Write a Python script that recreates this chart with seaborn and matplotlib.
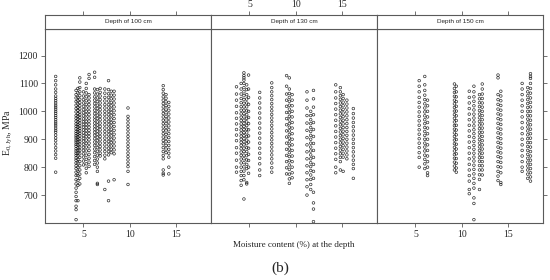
import pandas as pd
import matplotlib.pyplot as plt
import seaborn as sns

# ---------------------------------------------------------------------
# Data: moisture content columns and E values
# ---------------------------------------------------------------------
depths = ["Depth of 100 cm", "Depth of 130 cm", "Depth of 150 cm"]

x_100 = [2.0, 4.2, 4.4, 4.6, 5.0, 5.3, 5.6, 6.2, 6.5, 6.8, 7.3, 7.7, 8.0, 8.3, 9.8, 13.6, 13.9, 14.2]
e_100 = [
    [1125, 1110, 1095, 1080, 1068, 1055, 1046, 1038, 1030, 1022, 1015, 1008, 1000, 993, 985, 978,
     970, 962, 955, 948, 940, 932, 925, 915, 905, 895, 883, 870, 858, 845, 832, 782],
    [1075, 1060, 1048, 1035, 1022, 1010, 998, 985, 975, 965, 955, 946, 937, 928, 920, 912, 905, 897,
     890, 882, 875, 866, 858, 850, 842, 833, 825, 815, 805, 795, 782, 770, 755, 740, 725, 710, 695,
     680, 660, 648, 612],
    [1082, 1066, 1050, 1038, 1026, 1014, 1003, 992, 982, 972, 962, 953, 944, 935, 926, 917, 908, 899,
     890, 880, 870, 860, 850, 840, 828, 815, 800, 785, 770, 752, 735, 680],
    [1120, 1105, 1085, 1070, 1056, 1043, 1031, 1020, 1009, 998, 988, 978, 968, 958, 948, 939, 930,
     921, 912, 902, 892, 882, 871, 860, 848, 835, 820, 805, 790, 775, 760, 740],
    [1070, 1055, 1042, 1030, 1018, 1006, 995, 984, 973, 963, 953, 943, 933, 923, 913, 903, 893, 882,
     871, 860, 848, 836, 822, 808],
    [1100, 1082, 1066, 1052, 1038, 1025, 1012, 1000, 988, 976, 964, 953, 942, 931, 920, 909, 897,
     885, 872, 858, 843, 828, 812, 796, 780],
    [1132, 1118, 1060, 1048, 1036, 1024, 1012, 1000, 988, 976, 965, 954, 943, 932, 921, 910, 898,
     886, 873, 860, 846, 832, 818, 803],
    [1140, 1122, 1080, 1066, 1052, 1040, 1028, 1016, 1004, 992, 980, 969, 958, 947, 936, 925, 914,
     902, 890, 878, 865, 852, 838, 824, 810],
    [1078, 1062, 1048, 1035, 1022, 1010, 998, 986, 974, 962, 951, 940, 929, 918, 907, 895, 883, 870,
     857, 843, 829, 815, 800, 785, 742, 738],
    [1082, 1068, 1055, 1042, 1030, 1018, 1006, 994, 982, 970, 958, 946, 934, 922, 910, 898, 886, 874,
     862, 850, 840],
    [1080, 1065, 1050, 1037, 1024, 1012, 1000, 988, 976, 964, 952, 940, 928, 916, 904, 892, 880, 868,
     856, 843, 830, 720],
    [1110, 1078, 1063, 1050, 1037, 1024, 1012, 1000, 988, 976, 964, 952, 940, 928, 916, 904, 892,
     880, 868, 856, 844, 750, 680],
    [1072, 1058, 1045, 1032, 1020, 1008, 996, 984, 972, 960, 948, 936, 924, 912, 900, 888, 876, 864, 852],
    [1072, 1058, 1044, 1030, 1016, 1002, 988, 974, 960, 946, 932, 918, 904, 890, 876, 862, 848, 755],
    [1012, 982, 970, 958, 946, 934, 922, 910, 898, 886, 874, 862, 850, 838, 826, 814, 802, 785, 738],
    [1092, 1078, 1065, 1052, 1040, 1028, 1016, 1004, 992, 980, 968, 956, 944, 932, 920, 908, 896,
     884, 870, 856, 842, 830, 790, 778, 772],
    [1060, 1047, 1034, 1021, 1008, 995, 982, 969, 956, 943, 930, 917, 904, 891, 878, 865, 852],
    [1032, 1018, 1004, 990, 976, 962, 948, 934, 920, 906, 892, 878, 864, 850, 836, 800, 776],
]

x_130 = [3.6, 4.1, 4.4, 4.7, 4.9, 6.1, 7.4, 9.0, 9.3, 9.6, 11.2, 11.6, 11.9, 14.3, 14.8, 15.1, 15.5, 16.2]
e_130 = [
    [1088, 1062, 1040, 1018, 995, 975, 955, 935, 915, 895, 870, 850, 825, 800, 782],
    [1100, 1080, 1062, 1046, 1031, 1017, 1004, 991, 979, 967, 955, 944, 933, 922, 911, 900, 889,
     878, 866, 854, 842, 829, 815, 800, 785, 770, 752, 735],
    [1138, 1128, 1120, 1112, 1100, 1085, 1070, 1056, 1042, 1029, 1016, 1004, 992, 980, 968, 957,
     946, 935, 924, 913, 902, 891, 880, 868, 856, 843, 830, 816, 801, 786, 770, 755, 686],
    [1095, 1078, 1060, 1044, 1030, 1016, 1002, 988, 975, 962, 949, 936, 923, 910, 897, 884, 870,
     856, 841, 826, 810, 795, 745, 740],
    [1130, 1080, 1050, 1025, 1000, 978, 956, 934, 912, 890, 868, 846, 824, 800, 778],
    [1068, 1048, 1030, 1012, 994, 976, 958, 940, 922, 904, 886, 868, 850, 832, 812, 790, 770],
    [1102, 1085, 1070, 1056, 1042, 1028, 1015, 1002, 989, 976, 963, 950, 937, 924, 911, 898, 885,
     872, 858, 844, 830, 815, 798, 782],
    [1128, 1090, 1062, 1040, 1018, 996, 974, 952, 930, 908, 886, 864, 842, 820, 798, 776],
    [1120, 1080, 1064, 1050, 1036, 1022, 1008, 995, 982, 969, 956, 943, 930, 917, 904, 891, 878,
     865, 852, 838, 823, 808, 792, 775, 758, 742],
    [1060, 1040, 1020, 1000, 980, 960, 940, 920, 900, 880, 860, 840, 820, 800, 780, 762],
    [1070, 1040, 1012, 985, 958, 932, 906, 880, 855, 830, 805, 780, 755, 730, 700],
    [1000, 985, 970, 956, 942, 928, 914, 900, 886, 872, 858, 844, 830, 816, 802, 788, 772, 756, 738, 720],
    [1075, 1045, 1015, 988, 960, 935, 910, 885, 860, 835, 810, 785, 760, 710, 672, 650, 605],
    [1095, 1070, 1048, 1028, 1008, 988, 968, 948, 928, 908, 888, 868, 848, 828, 800, 780],
    [1085, 1070, 1056, 1043, 1030, 1017, 1004, 991, 978, 965, 952, 939, 926, 913, 900, 887, 874,
     861, 848, 835, 820, 790],
    [1060, 1046, 1033, 1020, 1007, 994, 981, 968, 955, 942, 929, 916, 903, 890, 877, 864, 850, 836, 785],
    [1040, 1026, 1012, 998, 984, 970, 956, 942, 928, 914, 900, 886, 872, 858, 844, 830],
    [1010, 992, 976, 960, 945, 930, 915, 900, 885, 870, 855, 840, 825, 810, 795, 760],
]

x_150 = [5.4, 6.0, 6.3, 9.2, 9.4, 10.8, 11.3, 11.9, 12.2, 13.9, 14.2, 16.5, 17.1, 17.4]
e_150 = [
    [1110, 1090, 1070, 1050, 1032, 1015, 998, 982, 966, 950, 934, 918, 902, 886, 870, 852, 835, 800],
    [1125, 1095, 1075, 1058, 1042, 1027, 1012, 998, 984, 970, 956, 942, 928, 914, 900, 886, 872,
     858, 843, 828, 812, 795],
    [1040, 1020, 1000, 980, 960, 940, 920, 900, 880, 860, 840, 820, 800, 780, 770],
    [1098, 1082, 1068, 1054, 1040, 1027, 1014, 1001, 988, 975, 962, 949, 936, 923, 910, 897, 884,
     871, 858, 845, 832, 818, 804, 790],
    [1090, 1070, 1052, 1035, 1018, 1001, 984, 967, 950, 933, 916, 899, 882, 865, 848, 831, 814, 797, 782],
    [1072, 1050, 1030, 1010, 990, 970, 950, 930, 910, 890, 870, 850, 830, 810, 790, 770, 750, 720, 705],
    [1090, 1070, 1052, 1036, 1020, 1005, 990, 976, 962, 948, 934, 920, 906, 892, 878, 864, 850, 836,
     822, 807, 792, 776, 760, 742, 725, 690, 670, 612],
    [1060, 1045, 1031, 1017, 1003, 990, 977, 964, 951, 938, 925, 912, 899, 886, 873, 860, 847, 834,
     821, 806, 790, 773, 756, 720],
    [1098, 1080, 1062, 1046, 1030, 1015, 1000, 985, 970, 955, 940, 925, 910, 895, 880, 865, 850,
     835, 820, 805, 790, 772],
    [1130, 1120, 1060, 1042, 1025, 1008, 991, 974, 957, 940, 923, 906, 889, 872, 855, 838, 820, 802,
     785, 768, 752],
    [1072, 1055, 1038, 1021, 1004, 987, 970, 953, 936, 919, 902, 885, 868, 851, 834, 817, 800, 780, 745, 738],
    [1100, 1080, 1060, 1040, 1020, 1000, 980, 960, 940, 920, 900, 880, 860, 840, 820, 800, 785],
    [1085, 1070, 1056, 1042, 1028, 1014, 1000, 986, 972, 958, 944, 930, 916, 902, 888, 874, 860,
     846, 832, 818, 804, 790, 775, 760],
    [1135, 1125, 1118, 1100, 1082, 1065, 1048, 1032, 1016, 1000, 984, 968, 952, 936, 920, 904, 888,
     872, 856, 840, 825, 810, 795, 780, 765, 750],
]

# ---------------------------------------------------------------------
# Long-form table
# ---------------------------------------------------------------------
rows = []
for depth, xs, es in zip(depths, [x_100, x_130, x_150], [e_100, e_130, e_150]):
    for xv, col in zip(xs, es):
        for ev in col:
            rows.append((depth, xv, ev))
df = pd.DataFrame(rows, columns=["depth", "moisture", "E"])

# ---------------------------------------------------------------------
# Lattice-style figure
# ---------------------------------------------------------------------
sns.set_style("white")
plt.rcParams["font.family"] = ["Liberation Serif", "DejaVu Serif"]
plt.rcParams["mathtext.fontset"] = "custom"
plt.rcParams["mathtext.rm"] = "Liberation Serif"
plt.rcParams["mathtext.it"] = "Liberation Serif:italic"

FRAME = "#5a5a5a"
W, H = 550, 280
fig = plt.figure(figsize=(5.5, 2.8), dpi=100)

panel_left, panel_w = 45, 166
plot_top, plot_bot = 29, 223
strip_top = 14.5

for i, depth in enumerate(depths):
    left = (panel_left + i * panel_w) / W
    ax = fig.add_axes([left, (H - plot_bot) / H, panel_w / W, (plot_bot - plot_top) / H])
    strip = fig.add_axes([left, (H - plot_top) / H, panel_w / W, (plot_top - strip_top) / H], sharex=ax)

    sns.scatterplot(data=df[df["depth"] == depth], x="moisture", y="E", ax=ax,
                    marker="o", s=3.5, linewidth=0.5, legend=False)
    pts = ax.collections[-1]
    pts.set_facecolor("none")
    pts.set_edgecolor((0.05, 0.05, 0.05, 0.85))

    ax.set_xlim(0.85, 18.75)
    ax.set_ylim(600, 1295)
    ax.set_xticks([5, 10, 15])
    ax.set_yticks([700, 800, 900, 1000, 1100, 1200])
    ax.set_xlabel("")
    ax.set_ylabel("")
    for sp in ax.spines.values():
        sp.set_color(FRAME)
        sp.set_linewidth(0.8)
    ax.tick_params(direction="out", length=3, width=0.6, color=FRAME, labelsize=7, pad=2,
                   bottom=True, labelbottom=(i != 1),
                   left=(i == 0), labelleft=(i == 0),
                   right=(i == 2), labelright=False)

    # strip with the top axis ticks
    strip.set_ylim(0, 1)
    strip.set_yticks([])
    for sp in strip.spines.values():
        sp.set_color(FRAME)
        sp.set_linewidth(0.8)
    strip.tick_params(axis="x", direction="out", length=3, width=0.6, color=FRAME, labelsize=7, pad=1,
                      bottom=False, labelbottom=False, top=True, labeltop=(i == 1))
    strip.text(0.5, 0.5, depth, transform=strip.transAxes, ha="center", va="center",
               fontsize=4.6, family=["Liberation Sans", "DejaVu Sans"])

fig.text(294 / W, 1 - 245 / H, "Moisture content (%) at the depth", ha="center", va="center", fontsize=6.5)
fig.text(8 / W, 1 - 132 / H, r"E$_{\mathrm{0,Jyh}}$, MPa", rotation=90, ha="center", va="center", fontsize=7)
fig.text(280 / W, 1 - 268 / H, "(b)", ha="center", va="center", fontsize=11)

fig.savefig("out.png", dpi=100)
